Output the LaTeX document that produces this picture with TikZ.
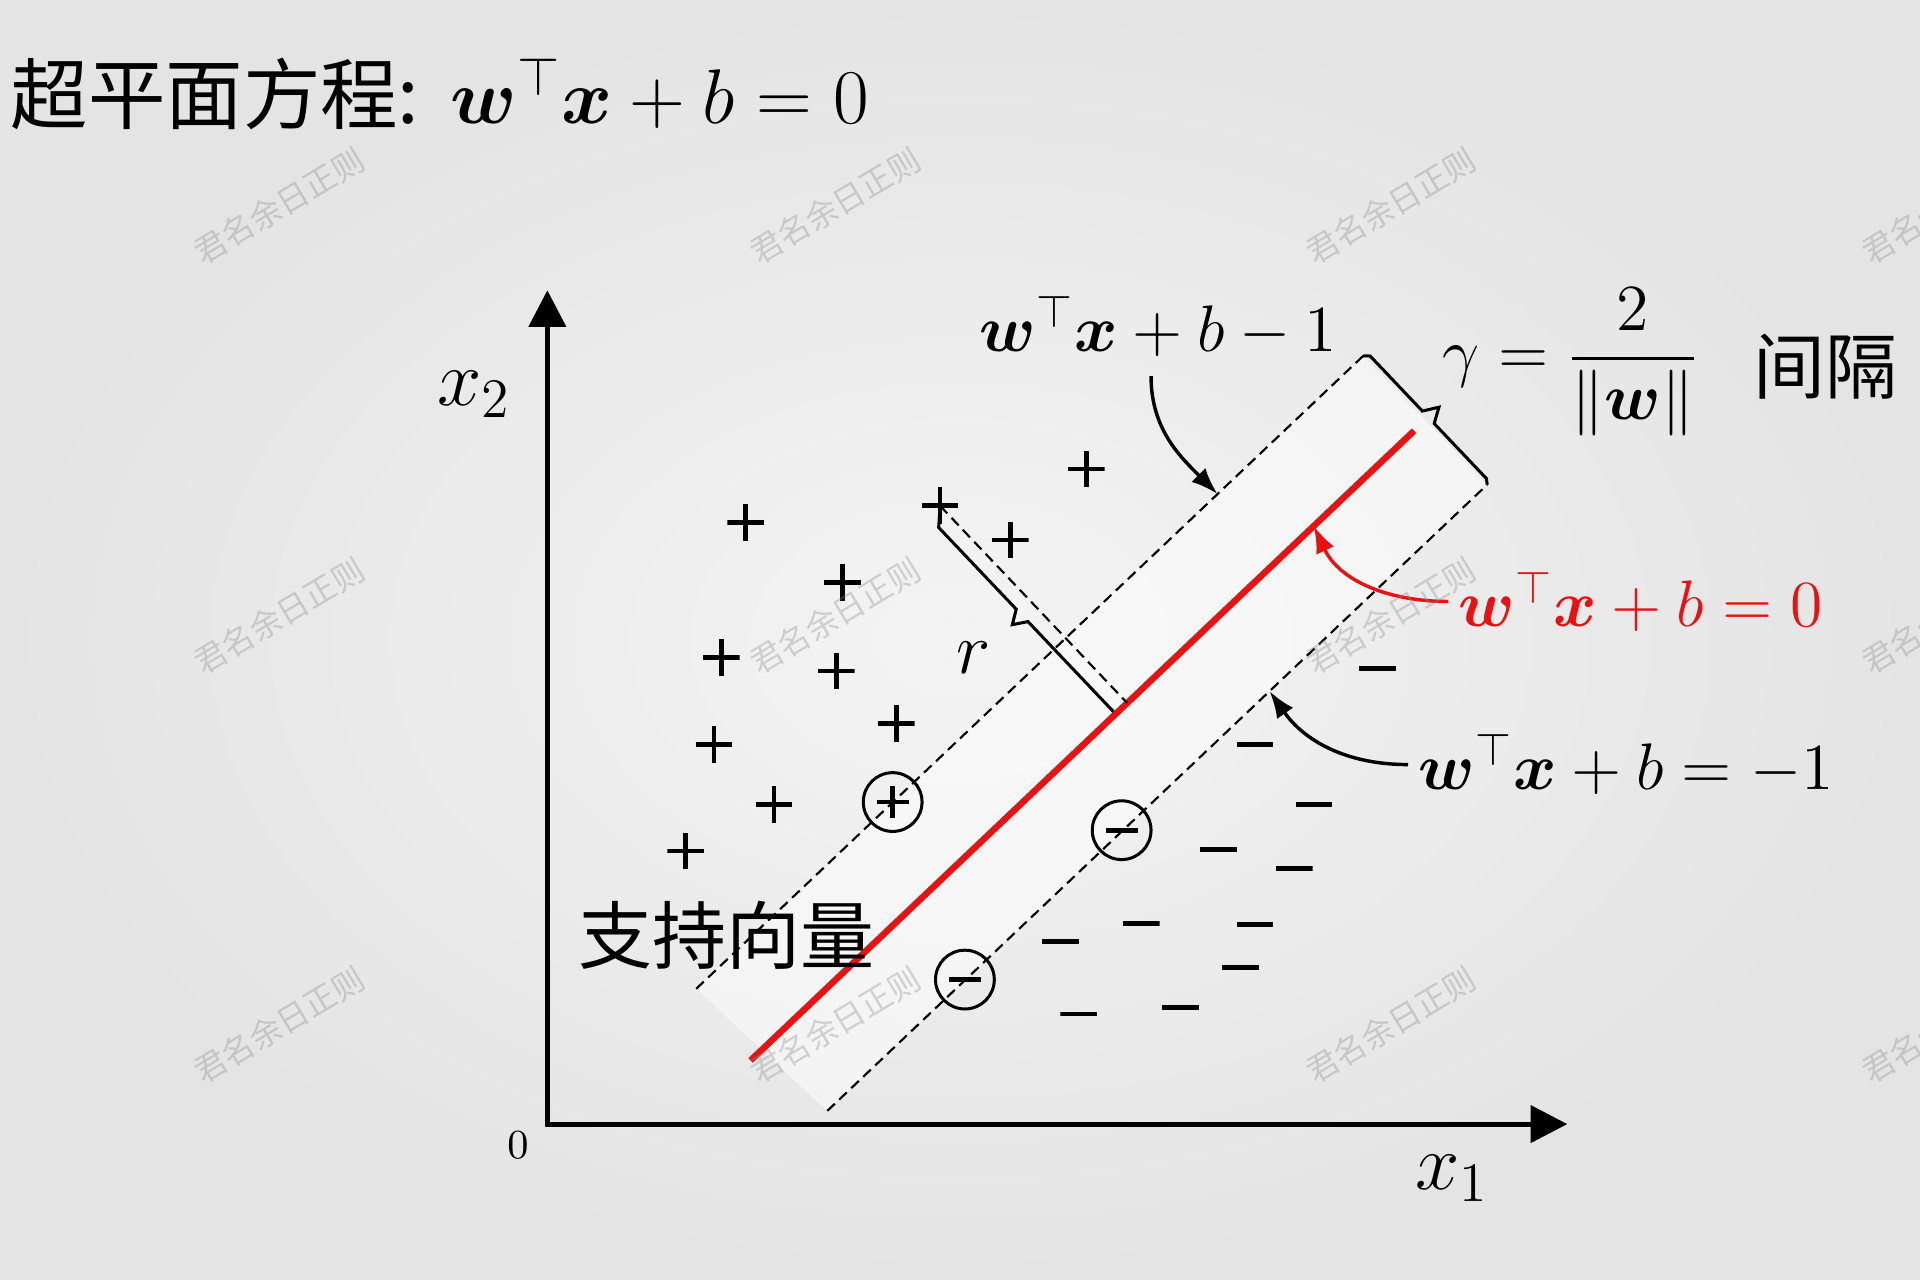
\RequirePackage{fix-cm}
\documentclass[tikz,border=0pt]{standalone}
\usepackage{amsmath}
\usepackage{amssymb}
\usepackage{bm}
\usepackage{fontspec}
\newfontfamily\cjk{Noto Sans CJK SC}
\usetikzlibrary{arrows.meta,positioning}

\definecolor{svmred}{RGB}{232,18,18}
\definecolor{bgin}{RGB}{244,244,244}
\definecolor{bgout}{RGB}{228,228,228}
\definecolor{wmgray}{RGB}{140,140,140}

\tikzset{
  plusmark/.style={path picture={\draw[line width=1.1pt]
      ([yshift=-#1]path picture bounding box.center) -- ([yshift=#1]path picture bounding box.center)
      ([xshift=-#1]path picture bounding box.center) -- ([xshift=#1]path picture bounding box.center);}},
  minusmark/.style={path picture={\draw[line width=1.1pt]
      ([xshift=-#1]path picture bounding box.center) -- ([xshift=#1]path picture bounding box.center);}},
  plusdot/.style={minimum size=3mm, inner sep=0pt, plusmark=1.5mm},
  minusdot/.style={minimum size=3mm, inner sep=0pt, minusmark=1.5mm},
  svplus/.style={circle, draw, line width=0.7pt, minimum size=4.8mm, inner sep=0pt, plusmark=1.3mm},
  svminus/.style={circle, draw, line width=0.7pt, minimum size=4.8mm, inner sep=0pt, minusmark=1.3mm}
}

\begin{document}
\begin{tikzpicture}[
    >={Latex[length=2.2mm,width=1.6mm]},
    axisline/.style={line width=1.2pt, {Triangle[length=3mm,width=3mm]}-{Triangle[length=3mm,width=3mm]}},
    marginline/.style={line width=0.5pt, dash pattern=on 0.85mm off 0.5mm},
    hyperplane/.style={svmred, line width=1.5pt},
    gapbrace/.style={line width=0.7pt, line join=miter},
    pointer/.style={line width=0.8pt, ->},
    eqlabel/.style={inner sep=0pt, font=\fontsize{15.3}{18}\selectfont},
    watermark/.style={text=wmgray, text opacity=0.35, rotate=31, inner sep=0pt, font=\cjk\fontsize{7.4}{9}\selectfont}
  ]
  \useasboundingbox (0,0) rectangle (15.68,10.45);
  \shade[inner color=bgin, outer color=bgout] (0,0) rectangle (15.68,10.45);

  \node[anchor=base west, inner sep=0pt, font=\fontsize{18}{22}\selectfont] (title) at (0.08,9.44)
    {{\cjk 超平面方程:} $\bm{w}^\top\bm{x}+b=0$};

  \coordinate (o) at (4.47,1.27);
  \coordinate (x1_end) at (12.80,1.27);
  \coordinate (x2_end) at (4.47,8.08);
  \draw[axisline] (x2_end) -- (o) -- (x1_end);
  \node[font=\fontsize{9.6}{11}\selectfont] (zero) at (4.23,1.10) {$0$};
  \node[font=\fontsize{18.5}{22}\selectfont] (x2) at (3.87,7.23) {$x_2$};
  \node[font=\fontsize{18.5}{22}\selectfont] (x1) at (11.86,0.83) {$x_1$};

  \begin{scope}[shift={(6.13,1.79)}, rotate=43.5]
    \coordinate (up_a) at (0.08,0.73);
    \coordinate (up_b) at (7.59,0.73);
    \coordinate (lo_a) at (0.17,-0.73);
    \coordinate (lo_b) at (7.60,-0.73);
    \coordinate (h_a) at (0,0);
    \coordinate (h_b) at (7.47,0);
    \coordinate (foot) at (4.24,0);
    \coordinate (top_r) at (4.24,2.22);
    \coordinate (tip_pos) at (5.95,0.73);
    \coordinate (tip_zero) at (6.34,0);
    \coordinate (tip_neg) at (5.15,-0.73);
    \fill[white, opacity=0.5] (up_a) -- (up_b) -- (lo_b) -- (lo_a) -- cycle;
    \draw[gapbrace] (up_b) -- (7.63,0.69) -- (7.63,0.07) -- (7.75,0)
      -- (7.63,-0.07) -- (7.63,-0.69) -- (lo_b);
    \draw[gapbrace] (top_r) -- (4.11,2.10) -- (4.11,1.18) -- (4.00,1.11)
      -- (4.11,1.04) -- (4.11,0) -- (foot);
  \end{scope}

  \draw[marginline] (up_a) -- (up_b);
  \draw[marginline] (lo_a) -- (lo_b);
  \draw[hyperplane] (h_a) -- (h_b);
  \draw[marginline] (top_r) -- (foot);

  \node[plusdot] (p_r) at (top_r) {};
  \foreach \px/\py [count=\k] in {6.09/6.18, 8.87/6.62, 8.25/6.04, 6.88/5.69, 5.89/5.08,
      6.83/4.97, 7.32/4.54, 5.83/4.37, 6.32/3.88, 5.60/3.50}
    \node[plusdot] (p_\k) at (\px,\py) {};
  \foreach \mx/\my [count=\k] in {11.25/4.99, 10.25/4.37, 10.73/3.88, 9.95/3.51, 10.57/3.36,
      8.66/2.76, 9.32/2.91, 10.25/2.90, 10.13/2.55, 8.81/2.17, 9.64/2.22}
    \node[minusdot] (m_\k) at (\mx,\my) {};
  \node[svplus] (sv_1) at (7.29,3.90) {};
  \node[svminus] (sv_2) at (7.88,2.45) {};
  \node[svminus] (sv_3) at (9.16,3.67) {};

  \node[eqlabel, anchor=base] (lbl_pos) at (9.46,7.58) {$\bm{w}^\top\bm{x}+b-1$};
  \node[eqlabel, anchor=base] (lbl_gamma) at (12.83,7.39) {$\gamma=\dfrac{2}{\|\bm{w}\|}$};
  \node[anchor=base, inner sep=0pt, font=\cjk\fontsize{16.7}{20}\selectfont] (lbl_gap) at (14.91,7.24) {间隔};
  \node[eqlabel, anchor=base, text=svmred] (lbl_zero) at (13.40,5.33) {$\bm{w}^\top\bm{x}+b=0$};
  \node[eqlabel, anchor=base] (lbl_neg) at (13.28,4.00) {$\bm{w}^\top\bm{x}+b=-1$};
  \node[font=\fontsize{17}{20}\selectfont] (lbl_r) at (7.95,5.08) {$r$};
  \node[anchor=base west, inner sep=0pt, font=\cjk\fontsize{17.2}{20}\selectfont] (lbl_sv) at (4.72,2.58) {支持向量};

  \draw[pointer] ([shift={(-0.06,-0.15)}]lbl_pos.south) to[out=-90, in=135] (tip_pos);
  \draw[pointer, svmred] ([xshift=-0.8mm]lbl_zero.west) to[out=180, in=-65] (tip_zero);
  \draw[pointer] ([xshift=-0.8mm]lbl_neg.west) to[out=180, in=-55] (tip_neg);

  \foreach \wx [count=\i] in {2.28,6.82,11.36,15.90}
    \foreach \wy [count=\j] in {8.77,5.42,2.08}
      \node[watermark] (wm_\i_\j) at (\wx,\wy) {君名余日正则};
\end{tikzpicture}
\end{document}
